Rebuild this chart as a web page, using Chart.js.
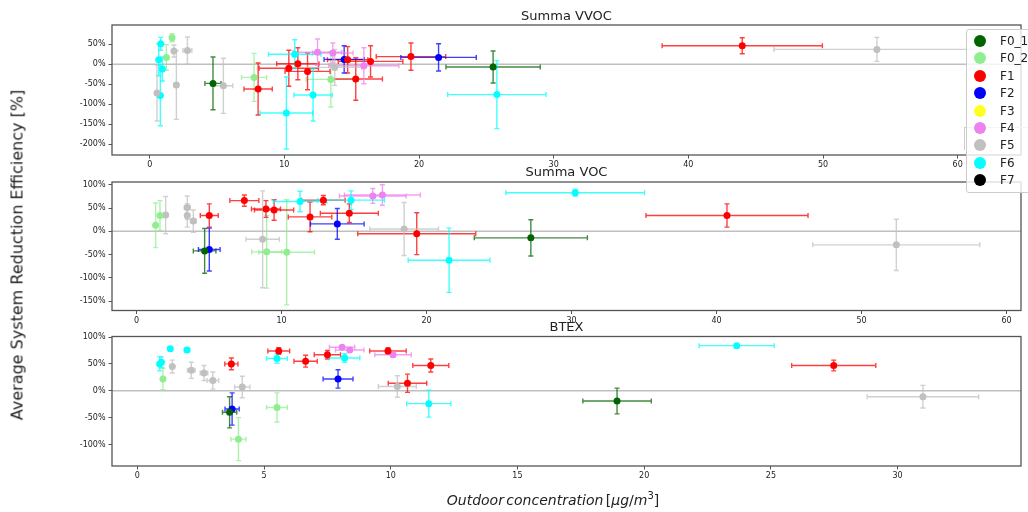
<!DOCTYPE html>
<html>
<head>
<meta charset="utf-8">
<script src="https://cdn.jsdelivr.net/npm/chart.js@4"></script>
<style>
  body { margin: 0; background: #fff; overflow: hidden; font-family: "DejaVu Sans", sans-serif; }
  #wrap { position: relative; width: 1028px; height: 512px; overflow: hidden; }
  canvas { position: absolute; left: 0; top: 0; }
  .title { position: absolute; left: 112px; width: 909px; text-align: center; font-size: 13px; color: #222; line-height: 14px; }
  #ylabel { position: absolute; left: 17px; top: 255px; transform: translate(-50%, -50%) rotate(-90deg); white-space: nowrap; font-size: 16px; color: #222; }
  #xlabel { position: absolute; left: 553px; top: 499px; transform: translate(-50%, -50%); white-space: nowrap; font-size: 14px; word-spacing: -2px; color: #222; }
  #ghost { position: absolute; left: 964px; top: 127px; width: 80px; height: 22px; border-top: 1px solid #ccc; border-left: 1px solid #ccc; }
  #legend { position: absolute; left: 966px; top: 29px; width: 80px; height: 162px; background: rgba(255,255,255,0.8); border: 1px solid #ccc; border-radius: 3px; }
  .item { position: absolute; left: 0; height: 17px; font-size: 12px; color: #222; }
  .item span.dot { position: absolute; left: 7px; top: 2px; width: 12px; height: 12px; border-radius: 50%; }
  .item span.lbl { position: absolute; left: 33px; top: 0px; line-height: 16px; }
</style>
</head>
<body>
<div id="wrap">
  <canvas id="c1" width="1028" height="512"></canvas>
  <canvas id="c2" width="1028" height="512"></canvas>
  <canvas id="c3" width="1028" height="512"></canvas>
  <div class="title" style="top:9px">Summa VVOC</div>
  <div class="title" style="top:165px">Summa VOC</div>
  <div class="title" style="top:320px">BTEX</div>
  <div id="ylabel">Average System Reduction Efficiency [%]</div>
  <div id="xlabel"><i>Outdoor concentration</i> [<i>μg</i>/<i>m</i><sup style="font-size:10px">3</sup>]</div>
  <div id="ghost"></div>
  <div id="legend"></div>
</div>
<script>
// series names and colours
const seriesNames = ['F0_1', 'F0_2', 'F1', 'F2', 'F3', 'F4', 'F5', 'F6', 'F7'];
const seriesColors = ['#006400', '#90ee90', '#ff0000', '#0000ff', '#ffff22', '#ee82ee', '#c0c0c0', '#00ffff', '#000000'];

// each row: [outdoor conc, reduction %, x error, y error]
// --- Summa VVOC ---
const vvocF0_1 = [[4.7, -48, 0.6, 66], [25.5, -7, 3.5, 40]];
const vvocF0_2 = [[1.66, 66, 0.15, 10], [1.24, 17, 0.1, 32], [7.75, -33, 0.93, 60], [13.45, -38, 1.83, 69]];
const vvocF1 = [[8.05, -62, 1.05, 65], [10.33, -10, 2.2, 45], [11.0, 1, 1.57, 40], [11.72, -18, 1.67, 46], [14.7, 11, 1.5, 33],
                [15.3, -37, 1.98, 53], [16.4, 7, 2.4, 39], [19.4, 19, 2.58, 34], [44.0, 46, 5.95, 20]];
const vvocF2 = [[14.44, 12, 1.49, 34], [21.45, 17, 2.8, 34]];
const vvocF3 = [];
const vvocF4 = [[12.46, 30, 1.8, 33], [13.6, 28, 1.5, 25], [15.9, -4, 2.6, 45]];
const vvocF5 = [[0.54, -72, 0.1, 70], [1.8, 33, 0.1, 15], [1.98, -52, 0.15, 86], [2.8, 34, 0.33, 34], [5.47, -54, 0.7, 69],
                [13.74, -8, 2.0, 45], [54.0, 37, 7.65, 30]];
const vvocF6 = [[0.82, 51, 0.1, 16], [0.67, 11, 0.1, 40], [0.94, -12, 0.1, 30], [0.79, -78, 0.1, 76], [10.15, -122, 1.95, 90],
                [10.77, 25, 1.95, 36], [12.13, -77, 1.42, 65], [25.78, -76, 3.65, 85]];
const vvocF7 = [];

// --- Summa VOC ---
const vocF0_1 = [[4.69, -42, 0.78, 48], [27.19, -14, 3.9, 39]];
const vocF0_2 = [[1.31, 13, 0.1, 48], [1.61, 34, 0.1, 32], [8.97, -44, 1.03, 78], [10.35, -45, 1.92, 113]];
const vocF1 = [[5.01, 34, 0.62, 25], [7.43, 66, 1.0, 12], [8.92, 48, 1.0, 18], [9.48, 46, 1.35, 22], [11.96, 31, 1.5, 32],
               [12.88, 67, 1.5, 10], [14.67, 39, 2.0, 20], [19.32, -5, 4.07, 45], [40.72, 34, 5.59, 25]];
const vocF2 = [[5.01, -39, 0.75, 46], [13.84, 16, 1.85, 33]];
const vocF3 = [];
const vocF4 = [[16.29, 76, 2.3, 16], [16.95, 78, 2.62, 22]];
const vocF5 = [[2.0, 35, 0.1, 40], [3.49, 51, 0.2, 25], [3.49, 34, 0.15, 25], [3.91, 22, 0.2, 24], [8.69, -17, 1.15, 104],
               [18.45, 5, 2.37, 57], [52.4, -29, 5.76, 55]];
const vocF6 = [[11.27, 64, 1.84, 22], [14.79, 67, 2.3, 20], [21.55, -62, 2.82, 69], [30.25, 83, 4.78, 7]];
const vocF7 = [];

// --- BTEX ---
const btexF0_1 = [[3.64, -40, 0.28, 29], [18.93, -19, 1.35, 24]];
const btexF0_2 = [[1.01, 22, 0.05, 20], [3.99, -90, 0.3, 40], [5.51, -31, 0.41, 27]];
const btexF1 = [[3.71, 50, 0.26, 11], [5.58, 74, 0.43, 6], [6.64, 55, 0.46, 11], [7.5, 67, 0.52, 8], [9.89, 74, 0.72, 6],
                [10.66, 14, 0.76, 17], [11.58, 47, 0.71, 12], [27.48, 47, 1.66, 10]];
const btexF2 = [[3.74, -34, 0.28, 30], [7.92, 22, 0.59, 17]];
const btexF3 = [];
const btexF4 = [[8.08, 81, 0.5, 3], [8.38, 76, 0.56, 3], [10.09, 67, 0.72, 4]];
const btexF5 = [[1.38, 45, 0.05, 12], [2.13, 38, 0.15, 15], [2.63, 33, 0.15, 14], [2.98, 19, 0.23, 16], [4.14, 7, 0.3, 20],
                [10.26, 8, 0.75, 20], [31.0, -11, 2.2, 21]];
const btexF6 = [[0.88, 50, 0.05, 13], [0.95, 53, 0.05, 10], [1.3, 78, 0.05, 3], [1.96, 76, 0.1, 3], [5.51, 60, 0.41, 9],
                [8.18, 61, 0.6, 8], [11.5, -24, 0.87, 25], [23.65, 84, 1.48, 2]];
const btexF7 = [];

const vvocData = [vvocF0_1, vvocF0_2, vvocF1, vvocF2, vvocF3, vvocF4, vvocF5, vvocF6, vvocF7];
const vocData = [vocF0_1, vocF0_2, vocF1, vocF2, vocF3, vocF4, vocF5, vocF6, vocF7];
const btexData = [btexF0_1, btexF0_2, btexF1, btexF2, btexF3, btexF4, btexF5, btexF6, btexF7];

const FONT = 'DejaVu Sans';

// draws the zero line and the x/y error bars under the markers
const errorBars = {
    id: 'errorBars',
    beforeDatasetsDraw(chart) {
        const { ctx, chartArea, scales: { x, y } } = chart;
        ctx.save();
        ctx.beginPath();
        ctx.rect(chartArea.left, chartArea.top, chartArea.right - chartArea.left, chartArea.bottom - chartArea.top);
        ctx.clip();
        // zero line
        ctx.strokeStyle = '#c0c0c0';
        ctx.lineWidth = 1.5;
        const y0 = y.getPixelForValue(0);
        ctx.beginPath();
        ctx.moveTo(chartArea.left, y0);
        ctx.lineTo(chartArea.right, y0);
        ctx.stroke();

        ctx.globalAlpha = 0.75;
        ctx.lineWidth = 1.4;
        const cap = 2.5;
        chart.data.datasets.forEach(ds => {
            ctx.strokeStyle = ds.backgroundColor;
            ds.data.forEach(p => {
                const px = x.getPixelForValue(p.x);
                const py = y.getPixelForValue(p.y);
                const xl = x.getPixelForValue(p.x - p.xErr);
                const xr = x.getPixelForValue(p.x + p.xErr);
                const yt = y.getPixelForValue(p.y + p.yErr);
                const yb = y.getPixelForValue(p.y - p.yErr);
                ctx.beginPath();
                ctx.moveTo(xl, py); ctx.lineTo(xr, py);
                ctx.moveTo(xl, py - cap); ctx.lineTo(xl, py + cap);
                ctx.moveTo(xr, py - cap); ctx.lineTo(xr, py + cap);
                ctx.moveTo(px, yt); ctx.lineTo(px, yb);
                ctx.moveTo(px - cap, yt); ctx.lineTo(px + cap, yt);
                ctx.moveTo(px - cap, yb); ctx.lineTo(px + cap, yb);
                ctx.stroke();
            });
        });
        ctx.restore();
    },
    afterDraw(chart) {
        // box round the axes
        const { ctx, chartArea } = chart;
        ctx.save();
        ctx.strokeStyle = '#555';
        ctx.lineWidth = 1.3;
        ctx.strokeRect(chartArea.left, chartArea.top, chartArea.right - chartArea.left, chartArea.bottom - chartArea.top);
        ctx.restore();
    }
};

function makeChart(id, panelData, xMin, xMax, xStep, yMin, yMax, top, bottom) {
    const datasets = seriesNames.map((name, i) => ({
        label: name,
        data: panelData[i].map(r => ({ x: r[0], y: r[1], xErr: r[2], yErr: r[3] })),
        backgroundColor: seriesColors[i],
        borderWidth: 0,
        pointRadius: 3.5
    }));
    const tickFont = { family: FONT, size: 8 };
    new Chart(document.getElementById(id), {
        type: 'scatter',
        data: { datasets: datasets },
        options: {
            responsive: false,
            animation: false,
            devicePixelRatio: 1,
            layout: { autoPadding: false, padding: { left: 0, right: 7, top: top, bottom: 512 - bottom - 20 } },
            plugins: { legend: { display: false }, tooltip: { enabled: false } },
            scales: {
                x: {
                    type: 'linear', min: xMin, max: xMax,
                    ticks: { stepSize: xStep, includeBounds: false, font: tickFont, color: '#222', padding: 2, maxRotation: 0 },
                    grid: { drawOnChartArea: false, tickLength: 3.5, color: '#555' },
                    border: { display: false },
                    afterFit: s => { s.height = 20; }
                },
                y: {
                    min: yMin, max: yMax,
                    ticks: { stepSize: 50, includeBounds: false, font: tickFont, color: '#222', padding: 3, callback: v => v + '%' },
                    grid: { drawOnChartArea: false, tickLength: 3.5, color: '#555' },
                    border: { display: false },
                    afterFit: s => { s.width = 112; }
                }
            }
        },
        plugins: [errorBars]
    });
}

makeChart('c1', vvocData, -2.8, 64.7, 10, -227, 98, 25, 155);
makeChart('c2', vocData, -1.7, 61.0, 10, -170, 106, 182, 310.5);
makeChart('c3', btexData, -1.0, 34.87, 5, -140, 101, 336.5, 466);

// legend box
const legend = document.getElementById('legend');
seriesNames.forEach((name, i) => {
    const item = document.createElement('div');
    item.className = 'item';
    item.style.top = (3 + i * 17.4) + 'px';
    item.innerHTML = '<span class="dot" style="background:' + seriesColors[i] + '"></span><span class="lbl">' + name + '</span>';
    legend.appendChild(item);
});
</script>
</body>
</html>
